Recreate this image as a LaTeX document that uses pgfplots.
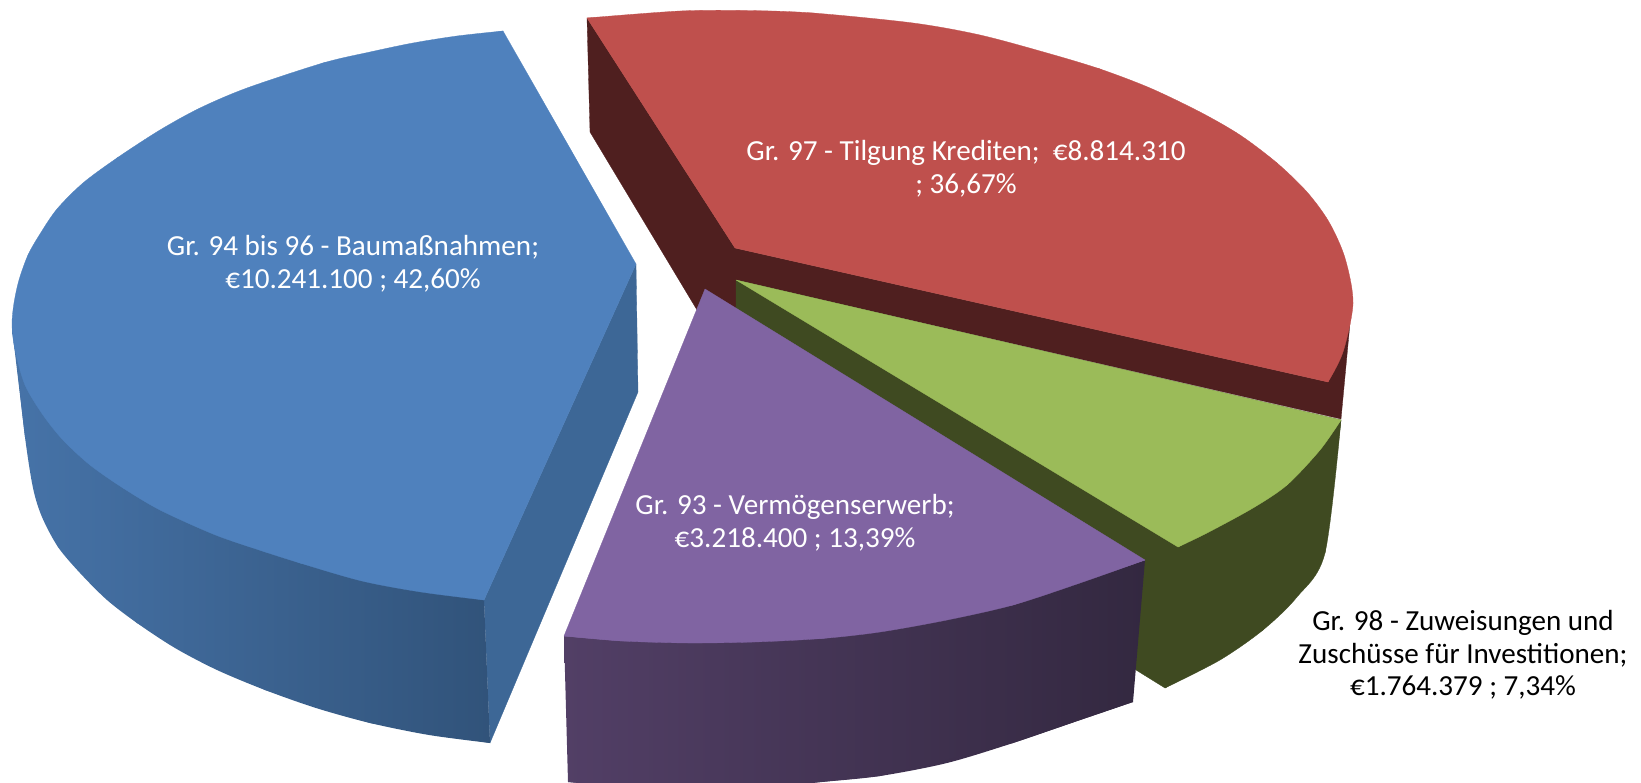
\documentclass[border=0pt]{standalone}
\usepackage{pgfplots}
\pgfplotsset{compat=1.18}
\usepackage{fontspec}
\setmainfont{Carlito}
\definecolor{bluetop}{HTML}{4F81BD}
\definecolor{blueinner}{HTML}{3D6796}
\definecolor{bluewallL}{HTML}{4673A8}
\definecolor{bluewallR}{HTML}{31537A}
\definecolor{redtop}{HTML}{BF504D}
\definecolor{redwall}{HTML}{4F1F1F}
\definecolor{greentop}{HTML}{9BBB59}
\definecolor{greenwall}{HTML}{3F4A21}
\definecolor{purpletop}{HTML}{8064A2}
\definecolor{purplewallL}{HTML}{523F66}
\definecolor{purplewallM}{HTML}{3D2E4E}
\definecolor{purplewallR}{HTML}{332840}
\tikzset{lab/.style={font=\fontsize{29.1}{32.5}\selectfont, align=center, text=white, inner sep=0pt}}
\begin{document}
\begin{tikzpicture}
\begin{axis}[
  scale only axis, width=1641pt, height=783pt,
  xmin=0, xmax=1641, ymin=0, ymax=783, y dir=reverse,
  ticks=none, axis line style={draw=none}, no markers,
  every axis plot/.append style={line width=0.3pt, line join=round},
]
% Red slice
\addplot[draw=redwall, fill=redwall] coordinates {(587,18)(590,132)(697,310)(736,310)(736,280)(1341,419)(1350,323)(1328,382)(735,248)} --cycle;
\addplot[draw=redtop, fill=redtop, smooth] coordinates {(587,18)(680,11)(747,10.5)(813,13)(913,23)(980,35)(1047,53)(1100,69)(1150,88)(1200,112)(1240,135)(1277,163)(1307,192)(1329,222)(1345,258)(1353,303)(1343,352)(1328,382)} --cycle;
\addplot[draw=redtop, fill=redtop] coordinates {(587,18)(813,13)(1100,69)(1277,163)(1353,303)(1328,382)(735,248)} --cycle;
% Green slice
\addplot[draw=greenwall, fill=greenwall, smooth] coordinates {(1341,420)(1325,553)(1297,597)(1263,630)(1220,660)(1165,688)} --cycle;
\addplot[draw=greenwall, fill=greenwall] coordinates {(736,280)(1341,420)(1325,553)(1263,630)(1165,688)(1136,670)(1100,600)(736,310)} --cycle;
\addplot[draw=greentop, fill=greentop, smooth] coordinates {(1341,420)(1320,450)(1287,485)(1253,508)(1207,533)(1178,547)} --cycle;
\addplot[draw=greentop, fill=greentop] coordinates {(736,280)(1341,420)(1287,485)(1178,547)} --cycle;
% Purple slice
\addplot[draw=none, left color=purplewallL, middle color=purplewallM, right color=purplewallR, smooth] coordinates {(1133,702)(1080,720)(1013,743)(947,763)(880,776)(822,782)(760,788)(690,790)(625,787)(568,782)} --cycle;
\addplot[draw=none, left color=purplewallL, middle color=purplewallM, right color=purplewallR] coordinates {(564,636)(1145,560)(1133,702)(1013,743)(880,776)(760,788)(625,787)(568,782)} --cycle;
\addplot[draw=purpletop, fill=purpletop, smooth] coordinates {(1145,560)(1080,583)(1013,605)(947,620)(880,632)(822,638.5)(755,642)(688,643)(622,641)(564,636)} --cycle;
\addplot[draw=purpletop, fill=purpletop] coordinates {(705,289)(1145,560)(1013,605)(822,638.5)(622,641)(564,636)} --cycle;
% Blue slice
\addplot[draw=blueinner, fill=blueinner] coordinates {(484,600)(636,264)(638,392)(490,743)} --cycle;
\addplot[draw=none, left color=bluewallL, right color=bluewallR, smooth] coordinates {(12,328)(16,357)(25,437)(33,488)(42,517)(58,547)(80,573)(107,600)(137,623)(175,648)(217,670)(265,690)(316,708)(370,723)(429,735)(490,743)} --cycle;
\addplot[draw=none, left color=bluewallL, right color=bluewallR] coordinates {(12,328)(25,437)(58,547)(137,623)(265,690)(370,723)(490,743)(484,600)} --cycle;
\addplot[draw=bluetop, fill=bluetop, smooth] coordinates {(503,31)(457,36)(413,43)(370,52)(323,63)(247,88)(200,108)(160,130)(117,158)(83,183)(57,209)(40,234)(28,255)(19,280)(14,303)(12,325)(15,350)(25,385)(43,415)(63,440)(90,465)(123,488)(160,510)(213,534)(253,548)(300,563)(362,581)(421,592)(484,600)} --cycle;
\addplot[draw=bluetop, fill=bluetop] coordinates {(503,31)(323,63)(117,158)(28,255)(25,385)(123,488)(300,563)(484,600)(636,264)} --cycle;
% Labels
\node[lab] at (axis cs:353,264) {Gr. 94 bis 96 - Baumaßnahmen;\\€10.241.100 ; 42,60\%};
\node[lab] at (axis cs:966,169) {Gr. 97 - Tilgung Krediten;\ \ €8.814.310\\; 36,67\%};
\node[lab] at (axis cs:795,523) {Gr. 93 - Vermögenserwerb;\\€3.218.400 ; 13,39\%};
\node[lab, text=black] at (axis cs:1463,655) {Gr. 98 - Zuweisungen und\\Zuschüsse für Investitionen;\\€1.764.379 ; 7,34\%};
\end{axis}
\end{tikzpicture}
\end{document}
